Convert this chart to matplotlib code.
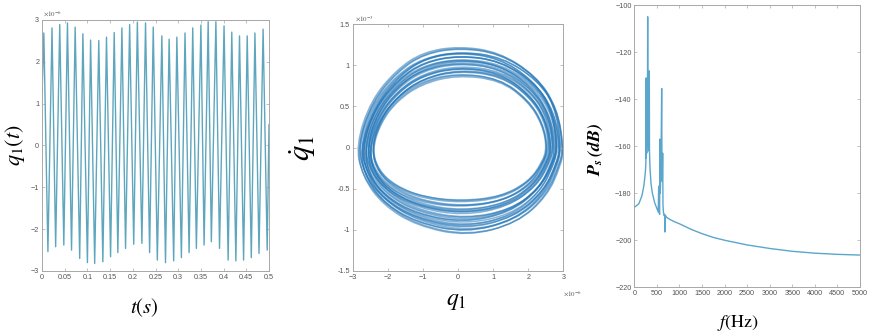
import numpy as np
import matplotlib
matplotlib.use("Agg")
import matplotlib.pyplot as plt
from matplotlib.path import Path
from matplotlib.patches import PathPatch

plt.rcParams['mathtext.fontset'] = 'stix'
plt.rcParams['font.family'] = ['Liberation Sans', 'DejaVu Sans']

# ---------------- DATA ----------------
# Panel 1: time history q1(t), values in units of 1e-6
ts_start = (0.0, 1.2)
peak_t = [0.004, 0.022, 0.039, 0.056, 0.073, 0.090, 0.107, 0.125, 0.142, 0.159,
          0.176, 0.193, 0.210, 0.228, 0.245, 0.264, 0.280, 0.297, 0.315, 0.332,
          0.350, 0.366, 0.383, 0.401, 0.418, 0.435, 0.452, 0.469, 0.487]
peak_v = [2.69, 2.81, 2.89, 2.93, 2.83, 2.67, 2.52, 2.51, 2.59, 2.70,
          2.81, 2.89, 2.95, 2.93, 2.83, 2.62, 2.54, 2.59, 2.69, 2.81,
          2.88, 2.96, 2.96, 2.86, 2.71, 2.62, 2.62, 2.69, 2.78]
trough_t = [0.013, 0.030, 0.048, 0.065, 0.083, 0.100, 0.116, 0.134, 0.151, 0.167,
            0.184, 0.202, 0.220, 0.237, 0.254, 0.272, 0.290, 0.307, 0.324, 0.340,
            0.357, 0.373, 0.391, 0.410, 0.427, 0.444, 0.461, 0.478, 0.496]
trough_v = [-2.54, -2.42, -2.38, -2.50, -2.70, -2.80, -2.82, -2.78, -2.66, -2.56,
            -2.46, -2.36, -2.34, -2.56, -2.74, -2.80, -2.76, -2.68, -2.56, -2.46,
            -2.38, -2.30, -2.46, -2.74, -2.76, -2.74, -2.68, -2.58, -2.50]
ts_end = (0.5, 0.5)
t_ticks = [0, 0.05, 0.1, 0.15, 0.2, 0.25, 0.3, 0.35, 0.4, 0.45, 0.5]
t_ticklabels = ['0', '0.05', '0.1', '0.15', '0.2', '0.25', '0.3', '0.35', '0.4', '0.45', '0.5']
q_ticks = [-3, -2, -1, 0, 1, 2, 3]

# Panel 2: phase portrait; q1 in 1e-6, q1dot in 1e-3
outer_q = [3.00, 2.81, 2.24, 1.20, 0.06, -0.95, -1.70, -2.45, -2.88, -2.70, -2.13, -1.18, 0.25, 1.67, 2.53, 2.91]
outer_qd = [0.00, 0.50, 0.86, 1.14, 1.21, 1.14, 0.93, 0.55, 0.00, -0.37, -0.70, -0.95, -1.08, -0.92, -0.58, -0.20]
inner_q = [2.53, 2.40, 2.00, 1.20, -0.04, -1.05, -1.75, -2.20, -2.45, -2.25, -1.75, -1.00, 0.06, 1.20, 2.00, 2.40]
inner_qd = [0.00, 0.28, 0.56, 0.82, 0.88, 0.77, 0.56, 0.30, -0.03, -0.30, -0.48, -0.60, -0.65, -0.60, -0.42, -0.18]
loop_frac = [0.0, 0.03, 0.07, 0.1, 0.14, 0.18, 0.21, 0.25, 0.29, 0.33, 0.37, 0.4, 0.44,
             0.48, 0.52, 0.56, 0.6, 0.63, 0.67, 0.71, 0.75, 0.79, 0.83, 0.87, 0.91, 0.95, 1.0]
loop_dq = [0.0, -0.04, 0.05, -0.02, 0.06, 0.01, -0.05, 0.03, -0.03, 0.05, 0.0, -0.04, 0.02,
           0.06, -0.02, 0.03, -0.05, 0.01, 0.04, -0.03, 0.02, -0.01, 0.05, -0.04, 0.02, 0.0, 0.0]
loop_dqd = [0.0, 0.03, -0.02, 0.04, 0.0, -0.03, 0.02, -0.01, 0.04, -0.02, 0.03, 0.0, -0.04,
            0.01, 0.03, -0.03, 0.02, 0.04, -0.01, 0.0, -0.03, 0.02, 0.01, -0.02, 0.03, 0.0, 0.0]
p2_xticks = [-3, -2, -1, 0, 1, 2, 3]
p2_yticks = [-1.5, -1, -0.5, 0, 0.5, 1, 1.5]
p2_yticklabels = ['-1.5', '-1', '-0.5', '0', '0.5', '1', '1.5']

# Panel 3: spectrum
spec_f = [0, 100, 170, 210, 240, 255,
          260, 262, 265, 270, 275, 280, 285, 290, 296, 300, 305, 310, 318, 325, 332, 336, 342,
          350, 370, 400, 450, 500, 530, 540, 548, 560, 568, 575, 590, 606, 612, 620, 628, 635,
          645, 660, 675, 680, 690, 720, 800, 900, 1000, 1250, 1500, 1750, 2000, 2500, 3000, 3500,
          4000, 4500, 5000]
spec_db = [-186.0, -184.5, -181.0, -177.0, -172.0, -168.0,
           -160.0, -131.0, -165.0, -150.0, -163.0, -148.0, -160.0, -152.0, -105.0, -155.0, -160.0,
           -148.0, -162.0, -150.0, -128.0, -162.0, -166.0,
           -170.0, -176.0, -180.0, -184.0, -186.5, -188.0, -177.0, -187.0, -189.0, -157.0, -180.0,
           -170.0, -135.5, -165.0, -175.0, -163.0, -185.0,
           -188.0, -189.5, -189.0, -196.5, -189.5, -190.3, -191.3, -192.2, -193.0, -195.3, -197.2,
           -198.8, -200.0, -202.0, -203.5, -204.7, -205.5, -206.0, -206.3]
f_ticks = [0, 500, 1000, 1500, 2000, 2500, 3000, 3500, 4000, 4500, 5000]
db_ticks = [-220, -200, -180, -160, -140, -120, -100]

# ---------------- STYLE ----------------
spine_col = '#a8a8a8'
tick_col = '#555555'

fig = plt.figure(figsize=(8.7, 3.36), dpi=100)
ax1 = fig.add_axes([0.0483, 0.1935, 0.2609, 0.747])
ax2 = fig.add_axes([0.4054, 0.1935, 0.2421, 0.735])
ax3 = fig.add_axes([0.7291, 0.145, 0.2594, 0.840])


def style(ax):
    for s in ax.spines.values():
        s.set_color(spine_col)
        s.set_linewidth(0.7)
    ax.tick_params(direction='in', length=2.5, width=0.5, color=spine_col,
                   top=True, right=True, labelsize=5.2, labelcolor=tick_col, pad=2)


# Panel 1
tt = [ts_start[0]]
vv = [ts_start[1]]
for pt, pv, tr, tv in zip(peak_t, peak_v, trough_t, trough_v):
    tt += [pt, tr]
    vv += [pv, tv]
tt.append(ts_end[0])
vv.append(ts_end[1])
ax1.plot(tt, vv, color='#5ea6bd', lw=1.0)
ax1.set_xlim(0, 0.5)
ax1.set_ylim(-3, 3)
ax1.set_xticks(t_ticks)
ax1.set_xticklabels(t_ticklabels)
ax1.set_yticks(q_ticks)
style(ax1)
ax1.set_ylabel(r'$q_1(t)$', fontsize=16)
ax1.yaxis.set_label_coords(-0.065, 0.5)
ax1.set_xlabel(r'$t(s)$', fontsize=15)
ax1.xaxis.set_label_coords(0.45, -0.10)
ax1.text(0.005, 1.005, r'$\times10^{-6}$', transform=ax1.transAxes, fontsize=5,
         color=tick_col, ha='left', va='bottom')

# Panel 2
oq = np.array(outer_q); oqd = np.array(outer_qd)
iq = np.array(inner_q); iqd = np.array(inner_qd)
for fr, dq, dqd in zip(loop_frac, loop_dq, loop_dqd):
    xs = oq * (1 - fr) + iq * fr + dq
    ys = oqd * (1 - fr) + iqd * fr + dqd
    n = len(xs)
    verts = [((xs[-1] + xs[0]) / 2, (ys[-1] + ys[0]) / 2)]
    codes = [Path.MOVETO]
    for i in range(n):
        j = (i + 1) % n
        verts.append((xs[i], ys[i]))
        verts.append(((xs[i] + xs[j]) / 2, (ys[i] + ys[j]) / 2))
        codes += [Path.CURVE3, Path.CURVE3]
    ax2.add_patch(PathPatch(Path(verts, codes), facecolor='none',
                            edgecolor='#2476b8', lw=1.1, alpha=0.55))
ax2.set_xlim(-3, 3)
ax2.set_ylim(-1.5, 1.5)
ax2.set_xticks(p2_xticks)
ax2.set_yticks(p2_yticks)
ax2.set_yticklabels(p2_yticklabels)
style(ax2)
ax2.set_ylabel(r'$\dot{q}_1$', fontsize=22, rotation=90)
ax2.yaxis.set_label_coords(-0.165, 0.5)
ax2.set_xlabel(r'$q_1$', fontsize=17)
ax2.xaxis.set_label_coords(0.49, -0.075)
ax2.text(0.01, 1.005, r'$\times10^{-3}$', transform=ax2.transAxes, fontsize=5,
         color=tick_col, ha='left', va='bottom')
ax2.text(1.0, -0.075, r'$\times10^{-6}$', transform=ax2.transAxes, fontsize=5,
         color=tick_col, ha='left', va='top')

# Panel 3
ax3.plot(spec_f, spec_db, color='#5aa6cc', lw=1.0)
ax3.set_xlim(0, 5000)
ax3.set_ylim(-220, -100)
ax3.set_xticks(f_ticks)
ax3.set_yticks(db_ticks)
style(ax3)
ax3.set_ylabel(r'$\mathbfit{P_s\,(dB)}$', fontsize=13)
ax3.yaxis.set_label_coords(-0.13, 0.49)
ax3.set_xlabel(r'$f\mathrm{(Hz)}$', fontsize=13)
ax3.xaxis.set_label_coords(0.46, -0.09)

fig.savefig('out.png', dpi=100)
